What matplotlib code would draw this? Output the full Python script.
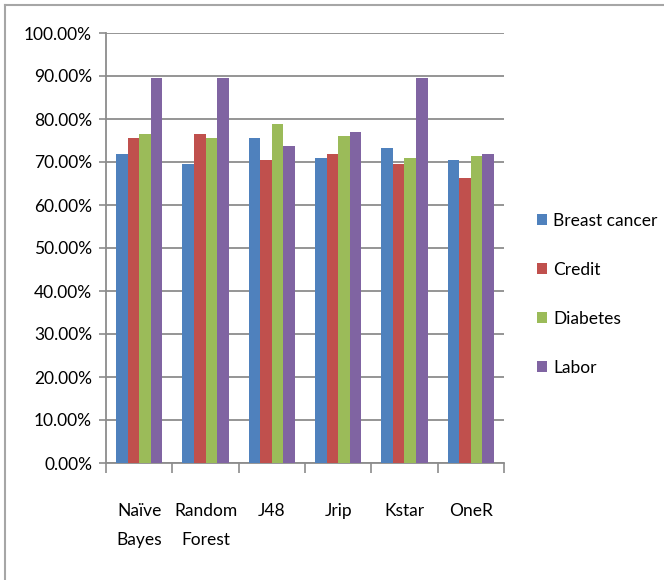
import matplotlib
matplotlib.use("Agg")
import matplotlib.pyplot as plt
import numpy as np
from matplotlib.lines import Line2D
from matplotlib.ticker import FuncFormatter, FixedLocator

categories = ["Naïve\nBayes", "Random\nForest", "J48", "Jrip", "Kstar", "OneR"]
series_names = ["Breast cancer", "Credit", "Diabetes", "Labor"]
breast_cancer = [71.8, 69.5, 75.6, 70.9, 73.3, 70.5]
credit = [75.6, 76.5, 70.5, 71.9, 69.5, 66.3]
diabetes = [76.5, 75.6, 78.8, 76.0, 70.9, 71.4]
labor = [89.5, 89.5, 73.7, 77.0, 89.5, 71.9]
colors = ["#4F81BD", "#C0504D", "#9BBB59", "#8064A2"]

plt.rcParams['font.family'] = ['Lato', 'DejaVu Sans']
FS = 12.5

fig = plt.figure(figsize=(6.64, 5.8), dpi=100)
ax = fig.add_axes([106/664, 1-463/580, (504-106)/664, (463-33)/580])

x = np.arange(len(categories))
w = 0.174
data = [breast_cancer, credit, diabetes, labor]
for i, (vals, name, c) in enumerate(zip(data, series_names, colors)):
    ax.bar(x + (i - 1.5) * w, vals, width=w, color=c, label=name, zorder=3)

ax.set_xlim(-0.5, len(categories) - 0.5)
ax.set_ylim(0, 100)
ax.set_yticks(np.arange(0, 101, 10))
ax.yaxis.set_major_formatter(FuncFormatter(lambda v, p: f"{v:.2f}%"))
ax.grid(axis='y', color='#8c8c8c', linewidth=1.3, zorder=0)

ax.set_xticks(x)
ax.set_xticklabels(categories, linespacing=2.0, fontsize=FS)
ax.tick_params(axis='x', length=0, pad=29)
ax.xaxis.set_minor_locator(FixedLocator(np.arange(-0.5, len(categories), 1)))
ax.tick_params(axis='x', which='minor', length=7, color='#8c8c8c', width=1.2)
ax.tick_params(axis='y', length=5, color='#8c8c8c', width=1.2, labelsize=FS, pad=5)

for s in ['top', 'right']:
    ax.spines[s].set_visible(False)
for s in ['left', 'bottom']:
    ax.spines[s].set_color('#8c8c8c')
    ax.spines[s].set_linewidth(1.3)

leg = fig.legend(loc='upper left', bbox_to_anchor=(521/664, 1-197/580), frameon=False,
                 handlelength=0.6, handleheight=0.6, handletextpad=0.35,
                 labelspacing=1.9, fontsize=FS)

fig.add_artist(Line2D([5/664, 5/664], [0, 1-5/580], color='#a6a6a6', lw=1.5, transform=fig.transFigure))
fig.add_artist(Line2D([5/664, 1], [1-5/580, 1-5/580], color='#a6a6a6', lw=1.5, transform=fig.transFigure))

fig.savefig("out.png", dpi=100)
